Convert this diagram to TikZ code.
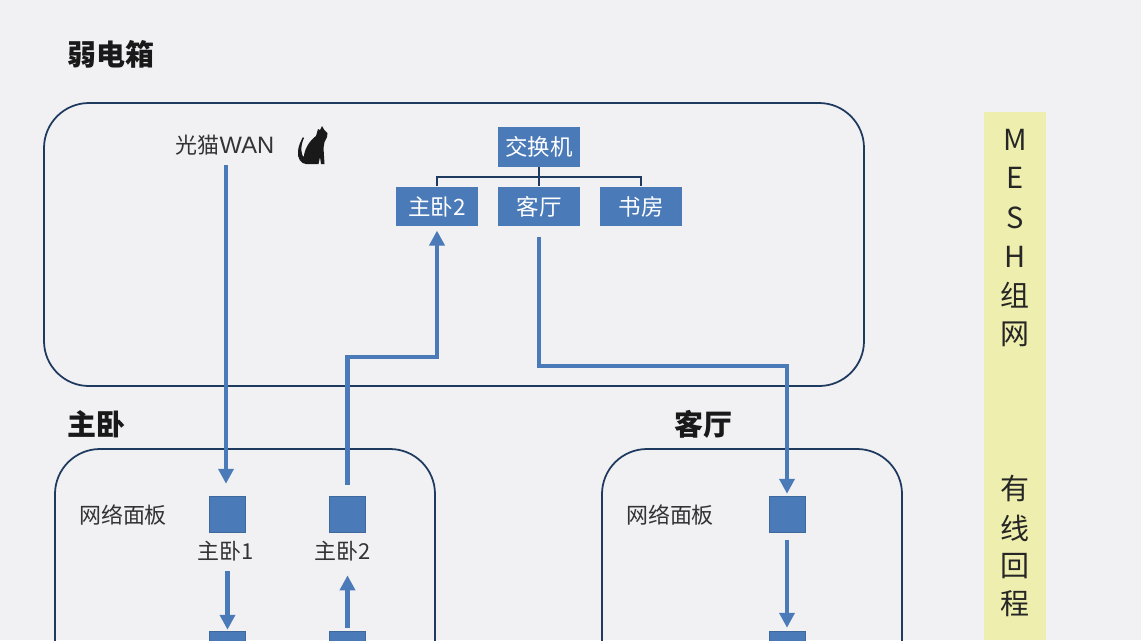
\documentclass[tikz,border=0pt]{standalone}
\usepackage{fontspec}
\setmainfont{Noto Sans CJK SC}
\newfontfamily\latinfont{Liberation Sans}
\usetikzlibrary{arrows.meta}
\definecolor{paper}{HTML}{F1F0F3}
\definecolor{bluefill}{HTML}{4A7AB8}
\definecolor{navyline}{HTML}{1F3A5F}
\definecolor{strip}{HTML}{EEEEAE}
\tikzset{
  panel/.style={draw=navyline,line width=1pt,rounded corners=0.9cm},
  label/.style={text=black!80,inner sep=0pt,font=\fontsize{12.5}{14}\selectfont},
  title/.style={text=black!90,inner sep=0pt,font=\fontsize{16.5}{18}\selectfont\bfseries},
  port/.style={fill=bluefill,minimum width=1.64cm,minimum height=0.79cm,inner sep=0pt,text=white,font=\fontsize{12.8}{14}\selectfont},
  socket/.style={fill=bluefill,draw=bluefill!85!black,line width=0.3pt,minimum size=0.72cm,inner sep=0pt},
  flow/.style={draw=bluefill,line width=2.6pt,-{Triangle[width=8.5pt,length=8.5pt]}},
  branch/.style={draw=navyline,line width=1pt},
  vert/.style={text=black!85,inner sep=0pt,font=\fontsize{16.5}{18}\selectfont}
}

\begin{document}
\begin{tikzpicture}[x=0.02cm,y=-0.02cm]
\useasboundingbox (0,0) rectangle (1141,640);
\clip (0,0) rectangle (1141,640);
\fill[paper] (0,0) rectangle (1141,640);
\fill[strip] (984,112) rectangle (1046,640);
\draw (111,54) node[title] (titlebox) {弱电箱};
\draw (96,424) node[title] (titlezw) {主卧};
\draw (703,424) node[title] (titlekt) {客厅};
\draw[panel] (44,103) rectangle (864,386);
\draw[panel] (55,449) rectangle (435,720);
\draw[panel] (602,449) rectangle (902,720);
\draw (225,145) node[label] (wan) {光猫{\latinfont\fontsize{13.5}{14}\selectfont WAN}};
\fill[black!90] (322,126) -- (324,129.5) -- (327.5,133) -- (327,137) -- (324.5,142) -- (323.5,148)
  -- (324.5,164) -- (321,164) -- (320,157) -- (318.5,164) -- (306,164)
  .. controls (301,164) and (297,158) .. (298,151)
  .. controls (298.5,145) and (301,141) .. (303,137) -- (304,138)
  .. controls (302,142) and (301,147) .. (301.5,151)
  .. controls (302,155) and (303,157) .. (304,157)
  .. controls (304,150) and (309,141) .. (316,136) -- (318,129) -- (320,130) -- cycle; % cat
\draw (539,147) node[port] (switch) {交换机};
\draw (437,206.5) node[port] (zw2) {主卧2};
\draw (539,206.5) node[port] (kt) {客厅};
\draw (641,206.5) node[port] (study) {书房};
\coordinate (busmid) at (539,177);
\draw[branch] (switch.south) -- (kt.north);
\draw[branch] (zw2.north) |- (busmid) -| (study.north);
\draw (123,515) node[label] (panelzw) {网络面板}; % bedroom
\draw (227.5,514) node[socket] (sock1) {};
\draw (347.5,514) node[socket] (sock2) {};
\draw (226,551) node[label] (lab1) {主卧1};
\draw (343,551) node[label] (lab2) {主卧2};
\draw (227.5,649) node[socket] (low1) {};
\draw (347.5,649) node[socket] (low2) {};
\draw (670,515) node[label] (panelkt) {网络面板}; % living room
\draw (787,514) node[socket] (sock3) {};
\draw (787,649) node[socket] (low3) {};
\coordinate (wanout) at (226,165);
\coordinate (jogzw) at (390,357);
\coordinate (jogkt) at (660,366);
\draw[flow,shorten >=0.24cm] (wanout) -- (wanout |- sock1.north);
\draw[flow,shorten <=0.22cm,shorten >=0.08cm] (sock2.north) |- (jogzw) -| (zw2.south);
\draw[flow,shorten <=0.2cm,shorten >=0.04cm] (kt.south) |- (jogkt) -| (sock3.north);
\draw[flow,shorten >=0.02cm] (low1.north |- lab1.south) ++(0,10) -- (low1.north);
\draw[flow,shorten <=0.06cm,shorten >=0.28cm] (low2.north) -- (low2.north |- lab2.south);
\draw[flow,shorten <=0.16cm,shorten >=0.06cm] (sock3.south) -- (low3.north);
\draw (1015,140) node[vert] (m1) {M};
\draw (1015,178) node[vert] (m2) {E};
\draw (1015,218) node[vert] (m3) {S};
\draw (1015,257) node[vert] (m4) {H};
\draw (1015,295) node[vert] (m5) {组};
\draw (1015,334) node[vert] (m6) {网};
\draw (1015,488) node[vert] (m7) {有};
\draw (1015,528) node[vert] (m8) {线};
\draw (1015,566) node[vert] (m9) {回};
\draw (1015,604) node[vert] (m10) {程};
\end{tikzpicture}
\end{document}
